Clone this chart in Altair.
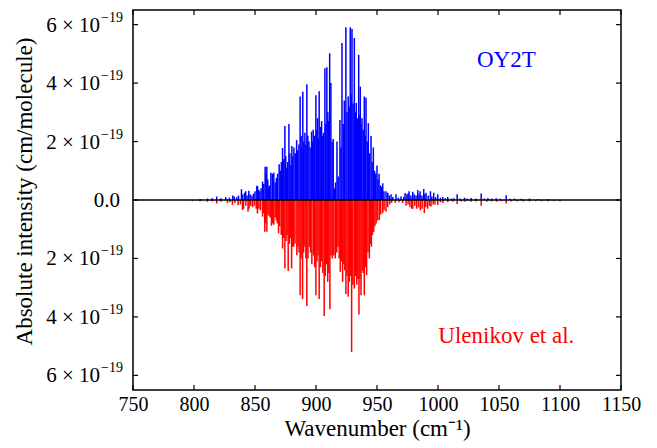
import altair as alt
import pandas as pd

# OY2T (upper, blue): wavenumber (cm-1) and intensity (1e-19 cm/molecule)
oy2t_w = [805, 811, 815, 818.6, 822, 826, 829, 831.8, 833, 835, 836.5, 838.9, 840, 841.6, 842.4, 843.5,
          844.9, 846, 847.5, 848.8, 850, 851.5, 852.1, 853, 854, 855, 856.2, 857.2, 858.3, 859.0, 859.7,
          860.5, 861.3, 862, 863.0, 864.2, 865.4, 866.5, 867.5, 868.5, 869.8, 870.8, 871.6, 872.6, 873.5,
          874.5, 875.2, 875.9, 876.8, 877.8, 878.6, 879.4, 880.2, 881.0, 881.9, 883.0, 884.1, 885.0, 886.0,
          887.0, 887.8, 888.5, 889.2, 890.0, 890.9, 891.7, 892.5, 893.3, 894.2, 895.2, 896.4, 897.0, 897.7,
          898.8, 899.9, 900.6, 901.3, 902.0, 902.6, 903.6, 904.6, 905.4, 906.2, 907.3, 908.0, 908.9, 909.7,
          910.4, 911.2, 912.2, 913.2, 914.1, 915.0, 916.0, 917.2, 918.2, 919.6, 920.5, 921.3, 922.3, 923.2,
          924.5, 925.4, 926.4, 927.2, 928.1, 928.8, 929.5, 930.4, 931.4, 932.2, 933.0, 934.0, 935.0, 935.6,
          936.3, 937.0, 937.7, 938.7, 939.6, 940.3, 941.0, 942.0, 942.9, 944.0, 945.1, 946.0, 947.0, 948.0,
          949.0, 950.0, 950.8, 951.7, 952.8, 953.7, 954.7, 955.7, 957.4, 958.8, 960, 961.5, 963, 965.6,
          967.5, 969.7, 972, 973.0, 974.5, 975.5, 976.3, 977.8, 979.3, 980.5, 982, 983.4, 984.5, 985.3,
          986.8, 988.3, 989.2, 990.2, 992, 993.8, 995, 996.5, 998, 999.8, 1002, 1003.9, 1006, 1008, 1011,
          1013, 1015.7, 1018, 1021.7, 1024, 1027.2, 1031, 1035.4, 1038, 1040.9, 1044, 1047.7, 1051, 1055.9,
          1059, 1062.7, 1068.2, 1075, 1082, 1090]
oy2t_i = [0.03, 0.05, 0.06, 0.12, 0.06, 0.1, 0.08, 0.15, 0.12, 0.1, 0.15, 0.37, 0.2, 0.25, 0.3, 0.15,
          0.32, 0.2, 0.15, 0.22, 0.3, 0.49, 0.47, 0.35, 0.3, 0.4, 0.63, 0.55, 1.14, 0.9, 1.14,
          0.7, 0.45, 0.5, 0.93, 0.9, 0.93, 0.6, 0.75, 0.9, 1.22, 1.0, 1.3, 1.78, 1.4,
          2.53, 1.5, 1.1, 1.3, 2.6, 1.6, 1.2, 1.85, 1.5, 1.8, 1.6, 2.05, 1.7, 1.9,
          3.54, 2.2, 1.8, 3.7, 2.0, 2.3, 1.9, 3.96, 2.2, 2.0, 1.8, 2.34, 2.0, 2.4,
          2.2, 3.58, 2.4, 2.8, 2.1, 3.72, 2.5, 2.7, 2.2, 2.3, 4.51, 2.6, 4.54, 3.0,
          2.7, 5.02, 4.0, 2.0, 2.09, 0.4, 0.6, 2.0, 0.8, 2.74, 1.8, 5.37, 2.6, 3.4,
          5.91, 3.0, 3.54, 3.2, 5.91, 3.6, 5.85, 3.3, 5.54, 3.0, 3.32, 2.8, 4.97, 2.9,
          3.88, 2.6, 2.8, 2.4, 3.54, 2.2, 3.5, 2.0, 2.63, 1.6, 2.19, 1.3, 1.8, 1.0,
          0.9, 1.18, 0.7, 0.9, 0.5, 0.45, 0.57, 0.3, 0.3, 0.25, 0.15, 0.2, 0.1, 0.2,
          0.08, 0.12, 0.1, 0.24, 0.2, 0.22, 0.3, 0.15, 0.28, 0.2, 0.15, 0.34, 0.2, 0.3,
          0.15, 0.38, 0.2, 0.25, 0.15, 0.3, 0.12, 0.25, 0.1, 0.2, 0.08, 0.1, 0.06, 0.1, 0.05,
          0.06, 0.2, 0.05, 0.08, 0.05, 0.07, 0.05, 0.22, 0.05, 0.07, 0.05, 0.06, 0.04, 0.16,
          0.04, 0.05, 0.04, 0.05, 0.03, 0.03]

# Ulenikov et al. (lower, red): wavenumber and absolute intensity (1e-19)
ulen_w = [798.7, 805, 811, 815, 818.6, 822, 827.4, 829.5, 831.5, 833.5, 836.1, 838, 839.7, 840.6, 842.5,
          844.3, 845.2, 846.5, 848, 849.5, 851, 852, 853.2, 854.5, 856.2, 857.2, 858.0, 858.8, 859.7,
          860.6, 861.5, 862.5, 863.5, 864.4, 865.4, 866.5, 867.5, 868.4, 869.3, 870.3, 871.5, 872.6,
          873.5, 874.5, 875.5, 876.3, 877.2, 878.2, 879.1, 880.0, 880.8, 881.7, 882.8, 884.3, 885.2,
          886.1, 887.0, 887.8, 889.0, 889.8, 890.9, 891.7, 892.5, 893.4, 894.5, 895.5, 896.6, 897.9,
          898.9, 899.9, 900.8, 901.6, 902.6, 903.6, 904.6, 905.6, 906.7, 907.6, 908.7, 909.6, 910.5,
          911.4, 912.3, 913.3, 914.6, 915.8, 917.0, 918.0, 919.0, 919.9, 920.8, 921.8, 922.8, 923.6,
          924.5, 925.4, 926.4, 927.3, 928.2, 929.2, 930.2, 931.4, 932.4, 933.4, 934.3, 935.2, 936.0,
          936.9, 937.8, 938.7, 939.6, 940.5, 941.5, 942.6, 943.7, 944.6, 945.4, 946.3, 947.3, 948.3,
          949.3, 950.5, 951.9, 953, 954.7, 955.8, 957.4, 958.8, 960.5, 962, 965, 968, 971, 973.8, 975.5,
          977, 978.5, 979.3, 981, 982.5, 984, 985.5, 987, 988.8, 990, 991.5, 993, 994.3, 996, 997.5,
          999.8, 1002, 1004, 1008, 1012, 1015.7, 1019, 1022, 1027, 1031, 1035.4, 1040, 1044, 1048,
          1052, 1055.9, 1060, 1065, 1070, 1075, 1080, 1085, 1090, 1095, 1100]
ulen_i = [0.04, 0.04, 0.06, 0.05, 0.12, 0.06, 0.1, 0.08, 0.17, 0.1, 0.18, 0.15, 0.34, 0.3, 0.2,
          0.4, 0.3, 0.2, 0.25, 0.2, 0.3, 0.46, 0.3, 0.35, 0.57, 0.45, 1.09, 0.8, 1.09,
          0.5, 0.55, 0.6, 0.88, 0.8, 0.85, 0.6, 0.7, 0.8, 1.14, 0.9, 1.2, 1.66,
          1.3, 2.34, 1.4, 1.2, 2.43, 1.5, 1.3, 2.34, 1.6, 1.6, 1.5, 1.89, 1.6,
          1.8, 3.26, 2.0, 3.39, 1.8, 1.6, 2.0, 3.63, 2.0, 1.6, 1.8, 2.2, 1.9,
          2.3, 3.26, 2.1, 1.9, 3.39, 2.3, 2.1, 2.5, 3.97, 2.6, 2.2, 2.8, 2.5,
          3.74, 1.9, 2.0, 1.9, 2.0, 1.8, 1.6, 2.0, 2.46, 2.1, 2.8, 2.2, 2.4,
          3.22, 2.6, 3.31, 2.8, 2.6, 5.2, 2.9, 3.03, 2.6, 2.9, 2.7, 3.92, 2.7,
          3.26, 2.4, 2.5, 3.26, 2.3, 2.57, 1.8, 2.0, 1.5, 1.6, 1.2, 1.09, 0.9,
          0.8, 0.7, 0.69, 0.5, 0.45, 0.35, 0.4, 0.25, 0.15, 0.1, 0.1, 0.08, 0.1, 0.2, 0.15,
          0.25, 0.3, 0.3, 0.2, 0.3, 0.25, 0.35, 0.3, 0.45, 0.25, 0.3, 0.2, 0.22, 0.15, 0.15,
          0.17, 0.08, 0.1, 0.08, 0.06, 0.14, 0.05, 0.06, 0.06, 0.05, 0.2, 0.06, 0.05, 0.06,
          0.04, 0.12, 0.05, 0.05, 0.05, 0.05, 0.04, 0.04, 0.04, 0.04, 0.04]

x_ticks = [750, 800, 850, 900, 950, 1000, 1050, 1100, 1150]
y_ticks = [-6, -4, -2, 0, 2, 4, 6]

series_labels = ["OY2T", "Ulenikov et al."]
label_w = [1056, 1056]
label_i = [4.8, -4.66]

FONT = "Liberation Serif"
W, H = 488, 380

df = pd.concat([
    pd.DataFrame({"w": oy2t_w, "h": oy2t_i, "series": "OY2T"}),
    pd.DataFrame({"w": ulen_w, "h": [-v for v in ulen_i], "series": "Ulenikov et al."}),
])
df["zero"] = 0.0
lab_df = pd.DataFrame({"series": series_labels, "w": label_w, "h": label_i})

xscale = alt.Scale(domain=[750, 1150], nice=False, zero=False)
yscale = alt.Scale(domain=[-6.5, 6.5], nice=False)
cscale = alt.Scale(domain=series_labels, range=["#0000ff", "#ff0000"])

lines = alt.Chart(df).mark_rule(strokeWidth=1.5).encode(
    x=alt.X("w:Q", scale=xscale, axis=alt.Axis(
        values=x_ticks, ticks=False, domain=False, grid=False, labelFont=FONT, labelFontSize=20,
        labelColor="black", labelPadding=4, format="d", labelOverlap=False, labelFlush=False,
        title="Wavenumber (cm⁻¹)", titleFont=FONT,
        titleFontSize=23, titleFontWeight="normal", titleColor="black",
        titleX=W / 2, titleY=38, titleAlign="center", titleBaseline="middle")),
    y=alt.Y("h:Q", scale=yscale, axis=alt.Axis(
        values=y_ticks, ticks=False, domain=False, grid=False, labels=False,
        title="Absolute intensity (cm/molecule)", titleFont=FONT, titleFontSize=23,
        titleFontWeight="normal", titleColor="black", titleAngle=-90,
        titleX=-109, titleY=H / 2 - 9, titleAlign="center", titleBaseline="middle")),
    y2="zero:Q",
    color=alt.Color("series:N", scale=cscale, legend=None),
)

xt = pd.DataFrame({"t": x_ticks})
yt = pd.DataFrame({"t": y_ticks})

zero_line = alt.Chart(yt).transform_filter("datum.t == 0").mark_rule(
    color="black", strokeWidth=1.5).encode(y=alt.Y("t:Q", scale=yscale))

tick_bottom = alt.Chart(xt).mark_rule(color="black", strokeWidth=1.2).encode(
    x=alt.X("t:Q", scale=xscale), y=alt.value(H), y2=alt.value(H - 5))
tick_top = alt.Chart(xt).mark_rule(color="black", strokeWidth=1.2).encode(
    x=alt.X("t:Q", scale=xscale), y=alt.value(0), y2=alt.value(5))
tick_left = alt.Chart(yt).mark_rule(color="black", strokeWidth=1.2).encode(
    y=alt.Y("t:Q", scale=yscale), x=alt.value(0), x2=alt.value(5))
tick_right = alt.Chart(yt).mark_rule(color="black", strokeWidth=1.2).encode(
    y=alt.Y("t:Q", scale=yscale), x=alt.value(W), x2=alt.value(W - 5))

# y tick labels: mantissa, ×10 and raised exponent
ylab_base = alt.Chart(yt).transform_filter("datum.t != 0").transform_calculate(
    txt="abs(datum.t) + ' × 10'").mark_text(
    align="right", baseline="middle", font=FONT, fontSize=21, fontWeight="normal", color="black",
    dy=1).encode(y=alt.Y("t:Q", scale=yscale), x=alt.value(-33), text="txt:N")
ylab_exp = alt.Chart(yt).transform_filter("datum.t != 0").mark_text(
    text="−19", align="left", baseline="middle", font=FONT, fontSize=14, fontWeight="normal",
    color="black", dy=-7).encode(y=alt.Y("t:Q", scale=yscale), x=alt.value(-32))
ylab_zero = alt.Chart(yt).transform_filter("datum.t == 0").mark_text(
    text="0.0", align="right", baseline="middle", font=FONT, fontSize=21, fontWeight="normal",
    color="black", dy=1).encode(y=alt.Y("t:Q", scale=yscale), x=alt.value(-13))

labels = alt.Chart(lab_df).mark_text(font=FONT, fontSize=23, fontWeight="normal").encode(
    x=alt.X("w:Q", scale=xscale), y=alt.Y("h:Q", scale=yscale), text="series:N",
    color=alt.Color("series:N", scale=cscale, legend=None))

chart = alt.layer(lines, zero_line, tick_bottom, tick_top, tick_left, tick_right,
                  ylab_base, ylab_exp, ylab_zero, labels).properties(
    width=W, height=H,
    autosize=alt.AutoSizeParams(type="none"),
    padding={"left": 133, "top": 10, "right": 36, "bottom": 58},
    background="white",
).configure_view(stroke="black", strokeWidth=1.5)

chart.save("out.html", embed_options={"renderer": "svg", "actions": False})
